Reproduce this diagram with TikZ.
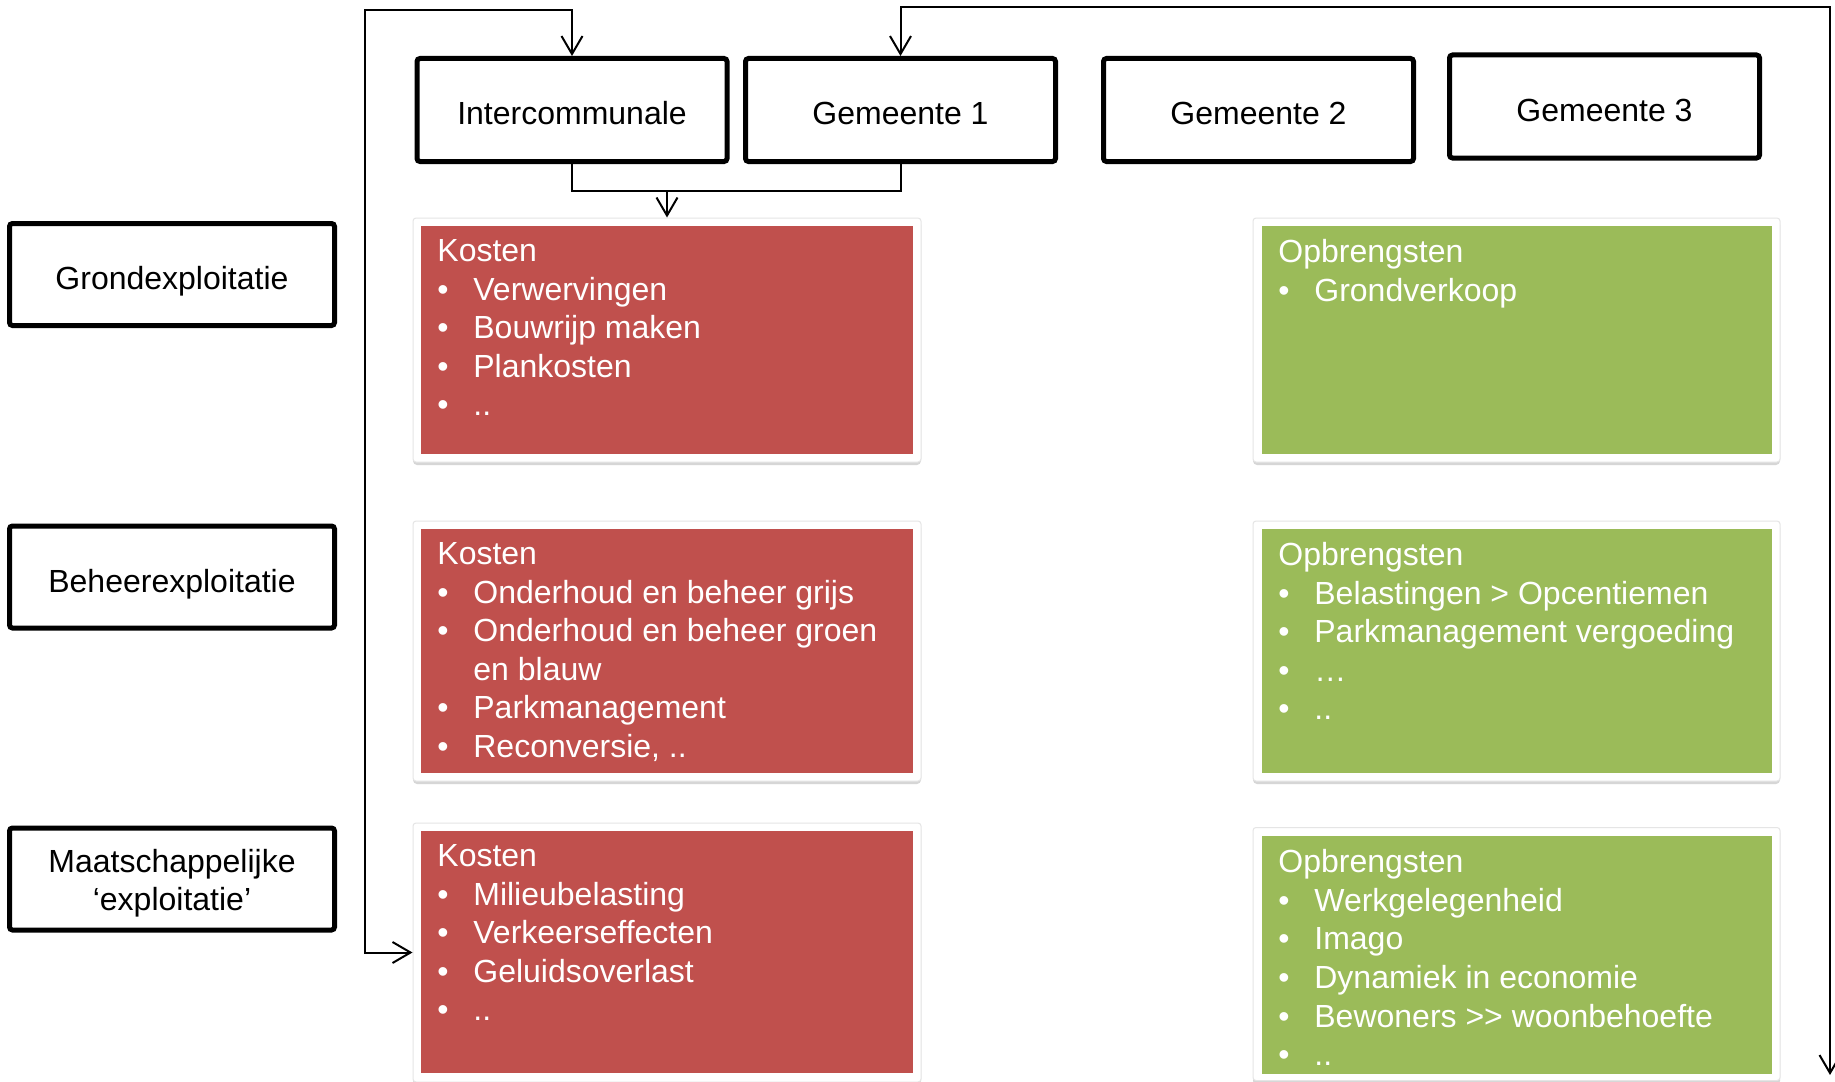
\documentclass[tikz,border=0pt]{standalone}
\usepackage{fontspec}
\setmainfont{Liberation Sans}
\usetikzlibrary{arrows.meta}
\definecolor{kred}{HTML}{C0504D}
\definecolor{kgreen}{HTML}{9BBB59}
\newcommand\itm{\makebox[18pt][l]{\textbullet}}
\begin{document}
\begin{tikzpicture}[x=0.5pt,y=-0.5pt,
  >={Straight Barb[length=9pt,width=10.5pt]},
  lbl/.style={font=\fontsize{16}{19}\selectfont},
  topbox/.style={draw=black, line width=2.5pt, rounded corners=1.5pt, fill=white,
     minimum width=155pt, minimum height=51.5pt, inner sep=0pt, lbl,
     text height=15pt, text depth=0pt},
  sidebox/.style={draw=black, line width=2.5pt, rounded corners=1.5pt, fill=white,
     minimum width=162.5pt, minimum height=51pt, inner sep=0pt, align=center, lbl},
  frame/.style={draw=black!10, line width=0.5pt, fill=white, rounded corners=1.5pt,
     minimum width=254pt, inner sep=0pt},
  gframe/.style={frame, minimum width=263.5pt},
  redfill/.style={fill=kred, minimum width=246pt, inner sep=0pt},
  greenfill/.style={fill=kgreen, minimum width=255pt, inner sep=0pt},
  body/.style={anchor=north west, inner sep=0pt, align=left, text=white,
     font=\fontsize{16}{19.3}\selectfont},
  conn/.style={draw=black, line width=1pt},
]
\path[use as bounding box, fill=white] (0,0) rectangle (1835,1081);

% top row
\node[topbox] (ic) at (572,110) {Intercommunale};
\node[topbox] (g1) at (900.5,110) {Gemeente 1};
\node[topbox] (g2) at (1258.5,110) {Gemeente 2};
\node[topbox] (g3) at (1604.5,106.5) {Gemeente 3};

% left column
\node[sidebox, text height=15pt, text depth=0pt] (ge) at (172,274.5) {Grondexploitatie};
\node[sidebox, text height=15pt, text depth=0pt] (be) at (172,577) {Beheerexploitatie};
\node[sidebox] (me) at (172,879) {};
\node[lbl, align=center, inner sep=0pt, yshift=-2pt] (met) at (me.center) {Maatschappelijke\\‘exploitatie’};

% shadows
\fill[black!16, rounded corners=2pt] (413,221) rectangle (921,465);
\fill[black!16, rounded corners=2pt] (413,524) rectangle (921,784);
\fill[black!16, rounded corners=2pt] (413,826) rectangle (921,1085);
\fill[black!16, rounded corners=2pt] (1253,221) rectangle (1780,465);
\fill[black!16, rounded corners=2pt] (1253,524) rectangle (1780,784);
\fill[black!16, rounded corners=2pt] (1253,829) rectangle (1780,1085);

% frames
\node[frame, minimum height=122pt] (k1f) at (667,340) {};
\node[frame, minimum height=130pt] (k2f) at (667,651) {};
\node[frame, minimum height=129.5pt] (k3f) at (667,952.5) {};
\node[gframe, minimum height=122pt] (o1f) at (1516.5,340) {};
\node[gframe, minimum height=130pt] (o2f) at (1516.5,651) {};
\node[gframe, minimum height=126.5pt] (o3f) at (1516.5,954) {};

% coloured fills
\node[redfill, minimum height=114pt] (k1) at (667,340) {};
\node[redfill, minimum height=122pt] (k2) at (667,650.5) {};
\node[redfill, minimum height=121pt] (k3) at (667,952) {};
\node[greenfill, minimum height=114pt] (o1) at (1517,340) {};
\node[greenfill, minimum height=122pt] (o2) at (1517,650.5) {};
\node[greenfill, minimum height=119pt] (o3) at (1517,954.5) {};

% texts
\node[body] (k1t) at (437,239) {Kosten\\\itm Verwervingen\\\itm Bouwrijp maken\\\itm Plankosten\\\itm ..};
\node[body] (k2t) at (437,542) {Kosten\\\itm Onderhoud en beheer grijs\\\itm Onderhoud en beheer groen\\\hspace*{18pt}en blauw\\\itm Parkmanagement\\\itm Reconversie, ..};
\node[body] (k3t) at (437,844) {Kosten\\\itm Milieubelasting\\\itm Verkeerseffecten\\\itm Geluidsoverlast\\\itm ..};
\node[body] (o1t) at (1278,239) {Opbrengsten\\\itm Grondverkoop};
\node[body] (o2t) at (1278,542) {Opbrengsten\\\itm Belastingen > Opcentiemen\\\itm Parkmanagement vergoeding\\\itm …\\\itm ..};
\node[body] (o3t) at (1278,849) {Opbrengsten\\\itm Werkgelegenheid\\\itm Imago\\\itm Dynamiek in economie\\\itm Bewoners >\kern0pt> woonbehoefte\\\itm ..};

% connectors
\coordinate (tl) at (365,10.5);
\coordinate (tr) at (1830,7);
\coordinate (br) at (1830,1075);
\coordinate (mj) at (667,191);
\draw[conn, <->] (k3f.west) -| (tl) -| (ic.north);
\draw[conn, <->] (g1.north) |- (tr) -- (br);
\draw[conn] (ic.south) |- (mj) -| (g1.south);
\draw[conn, ->] (mj) -- (k1f.north);
\end{tikzpicture}
\end{document}
